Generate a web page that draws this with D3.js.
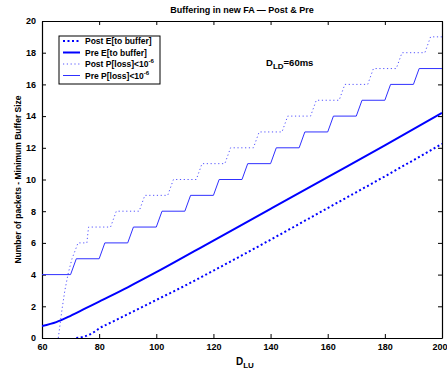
<!DOCTYPE html>
<html>
<head>
<meta charset="utf-8">
<script src="https://cdnjs.cloudflare.com/ajax/libs/d3/7.8.5/d3.min.js"></script>
<style>
  body { margin: 0; background: #fff; }
  svg text { font-family: "Liberation Sans", Arial, sans-serif; font-weight: bold; }
</style>
</head>
<body>
<div id="chart"></div>
<script>
// values
const xTicks = [60, 80, 100, 120, 140, 160, 180, 200];
const yTicks = [0, 2, 4, 6, 8, 10, 12, 14, 16, 18, 20];

const postEx = [72, 75, 78, 80, 85, 90, 100, 110, 120, 140, 160, 180, 200];
const postEy = [0, 0.1, 0.35, 0.6, 1.05, 1.5, 2.4, 3.3, 4.25, 6.2, 8.2, 10.2, 12.25];

const preEx = [60, 65, 70, 75, 80, 90, 100, 120, 140, 160, 180, 200];
const preEy = [0.75, 1.0, 1.4, 1.85, 2.3, 3.2, 4.15, 6.15, 8.15, 10.15, 12.15, 14.2];

const postLx = [65.7, 67, 68, 69.2, 70.5, 72.2, 72.6, 75.7, 76.3, 84, 86, 94, 96, 104, 106, 114, 116, 124, 126, 134, 136, 144, 146, 154, 156, 164, 166, 174, 176, 184, 186, 194, 196, 200];
const postLy = [0, 1.8, 3.0, 4.1, 5.0, 5.8, 6, 6, 7, 7, 8, 8, 9, 9, 10, 10, 11, 11, 12, 12, 13, 13, 14, 14, 15, 15, 16, 16, 17, 17, 18, 18, 19, 19];

const preLx = [60, 70, 72, 80, 82, 90, 92, 100, 102, 110, 112, 120, 122, 130, 132, 140, 142, 150, 152, 160, 162, 170, 172, 180, 182, 190, 192, 200];
const preLy = [4, 4, 5, 5, 6, 6, 7, 7, 8, 8, 9, 9, 10, 10, 11, 11, 12, 12, 13, 13, 14, 14, 15, 15, 16, 16, 17, 17];

const W = 447, H = 377;
const m = {left: 42, right: 5, top: 21, bottom: 39};

const svg = d3.select("#chart").append("svg")
    .attr("width", W)
    .attr("height", H);

const x = d3.scaleLinear().domain([60, 200]).range([m.left, W - m.right]);
const y = d3.scaleLinear().domain([0, 20]).range([H - m.bottom, m.top]);

// axes, ticks pointing inward on all four sides
const xAx = svg.append("g")
    .attr("transform", `translate(0,${y(0)})`)
    .call(d3.axisBottom(x).tickValues(xTicks).tickSizeInner(-4).tickSizeOuter(0).tickPadding(6));
svg.append("g")
    .attr("transform", `translate(0,${y(20)})`)
    .call(d3.axisTop(x).tickValues(xTicks).tickSizeInner(-4).tickSizeOuter(0).tickFormat(""));
svg.append("g")
    .attr("transform", `translate(${x(60)},0)`)
    .call(d3.axisLeft(y).tickValues(yTicks).tickSizeInner(-4).tickSizeOuter(0).tickPadding(6));
svg.append("g")
    .attr("transform", `translate(${x(200)},0)`)
    .call(d3.axisRight(y).tickValues(yTicks).tickSizeInner(-4).tickSizeOuter(0).tickFormat(""));

svg.selectAll(".domain").attr("stroke", "#000").attr("stroke-width", 1.2);
svg.selectAll(".tick line").attr("stroke", "#000");
svg.selectAll(".tick text").attr("font-size", 9).attr("font-weight", "bold").attr("fill", "#000");
// keep the last x label inside the window
xAx.selectAll(".tick text").filter(d => d === 200).attr("text-anchor", "end").attr("x", 5);

svg.append("clipPath").attr("id", "plotclip")
    .append("rect")
    .attr("x", x(60)).attr("y", y(20))
    .attr("width", x(200) - x(60)).attr("height", y(0) - y(20));

const smooth = d3.line().x(d => x(d[0])).y(d => y(d[1])).curve(d3.curveMonotoneX);
const straight = d3.line().x(d => x(d[0])).y(d => y(d[1]));
const zipped = (xs, ys) => xs.map((v, i) => [v, ys[i]]);

const series = [
    {name: "Post E[to buffer]", xs: postEx, ys: postEy, w: 2, dash: "2,2.5", col: "#0000ff", gen: smooth, sup: null},
    {name: "Pre E[to buffer]", xs: preEx, ys: preEy, w: 2, dash: null, col: "#0000ff", gen: smooth, sup: null},
    {name: "Post P[loss]<10", xs: postLx, ys: postLy, w: 1, dash: "1.2,2.6", col: "#5555ff", gen: straight, sup: "-6"},
    {name: "Pre P[loss]<10", xs: preLx, ys: preLy, w: 1, dash: null, col: "#3030ff", gen: straight, sup: "-6"}
];

const plot = svg.append("g").attr("clip-path", "url(#plotclip)");
series.forEach(s => {
    plot.append("path")
        .datum(zipped(s.xs, s.ys))
        .attr("d", s.gen)
        .attr("fill", "none")
        .attr("stroke", s.col)
        .attr("stroke-width", s.w)
        .attr("stroke-dasharray", s.dash);
});

// legend
const lg = svg.append("g").attr("transform", "translate(59,36)");
lg.append("rect")
    .attr("width", 101).attr("height", 48)
    .attr("fill", "#fff").attr("stroke", "#000").attr("stroke-width", 1);
series.forEach((s, i) => {
    const yy = 5 + i * 11.5;
    lg.append("line")
        .attr("x1", 4).attr("x2", 21)
        .attr("y1", yy).attr("y2", yy)
        .attr("stroke", s.col)
        .attr("stroke-width", s.w)
        .attr("stroke-dasharray", s.dash);
    const t = lg.append("text")
        .attr("x", 26).attr("y", yy + 3)
        .attr("font-size", 8.5)
        .text(s.name);
    if (s.sup) {
        t.append("tspan").attr("dy", -4).attr("font-size", 6).text(s.sup);
    }
});

// title and labels
svg.append("text")
    .attr("x", (x(60) + x(200)) / 2).attr("y", 13)
    .attr("text-anchor", "middle")
    .attr("font-size", 9)
    .text("Buffering in new FA \u2014 Post & Pre");

const xl = svg.append("text")
    .attr("x", 236).attr("y", 365)
    .attr("font-size", 10)
    .text("D");
xl.append("tspan").attr("dy", 3).attr("font-size", 8).text("LU");

svg.append("text")
    .attr("transform", `translate(21,${(y(0) + y(20)) / 2}) rotate(-90)`)
    .attr("text-anchor", "middle")
    .attr("font-size", 8.5)
    .text("Number of packets - Minimum Buffer Size");

const ann = svg.append("text")
    .attr("x", 266).attr("y", 66)
    .attr("font-size", 9.5)
    .text("D");
ann.append("tspan").attr("dy", 3).attr("font-size", 8).text("LD");
ann.append("tspan").attr("dy", -3).text("=60ms");
</script>
</body>
</html>
